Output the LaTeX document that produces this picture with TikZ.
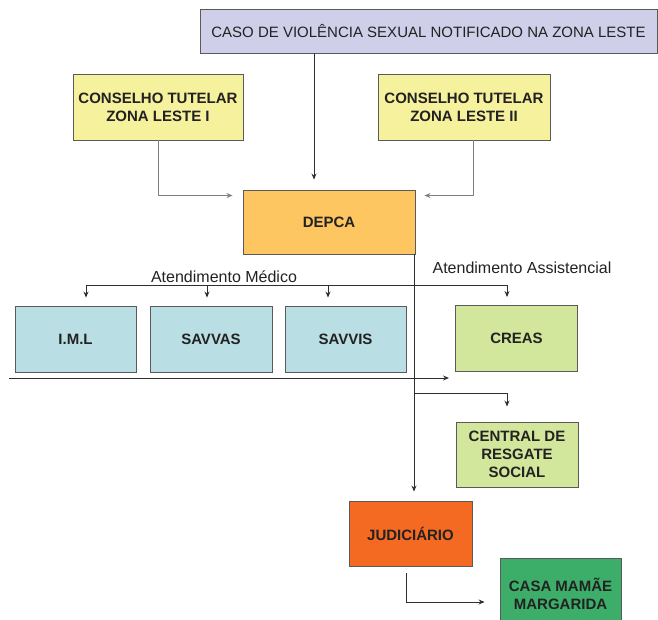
\documentclass[tikz,border=0pt]{standalone}
\usepackage{fontspec}
\setmainfont{Liberation Sans}
\usetikzlibrary{arrows.meta,calc}
\definecolor{lav}{HTML}{CFCFEA}
\definecolor{yel}{HTML}{F5F19C}
\definecolor{orangeA}{HTML}{FDC660}
\definecolor{blueA}{HTML}{B9DEE3}
\definecolor{greenA}{HTML}{D2E69C}
\definecolor{orangeB}{HTML}{F56A22}
\definecolor{greenB}{HTML}{3DAE6A}
\definecolor{boxline}{HTML}{5A5A5A}
\definecolor{conn}{HTML}{2E2E2E}
\definecolor{connlight}{HTML}{808080}
\definecolor{txt}{HTML}{222222}
\begin{document}
\begin{tikzpicture}[x=1pt,y=-1pt,
  box/.style={draw=boxline, line width=0.9pt, inner sep=0pt, align=center,
    font=\fontsize{15}{18}\selectfont\bfseries, text=txt},
  arr/.style={draw=conn, line width=0.9pt, -{Stealth[length=6pt,width=5pt]}},
  arrlight/.style={draw=connlight, line width=0.9pt, -{Stealth[length=6pt,width=5pt]}},
  ln/.style={draw=conn, line width=0.9pt},
  lbl/.style={font=\fontsize{16}{19}\selectfont, text=txt, inner sep=0pt}]
\useasboundingbox (0,0) rectangle (658,620);
\clip (0,0) rectangle (658,620);

% boxes
\node[box, fill=lav, minimum width=457pt, minimum height=44pt,
      font=\fontsize{15}{18}\selectfont, text=txt] (top) at (428.5,31)
      {CASO DE VIOLÊNCIA SEXUAL NOTIFICADO NA ZONA LESTE};
\node[box, fill=yel, minimum width=170pt, minimum height=66pt] (c1) at (158,107)
      {CONSELHO TUTELAR\\ZONA LESTE I};
\node[box, fill=yel, minimum width=172pt, minimum height=66pt] (c2) at (464,107)
      {CONSELHO TUTELAR\\ZONA LESTE II};
\node[box, fill=orangeA, minimum width=172pt, minimum height=64pt] (depca) at (329,222)
      {DEPCA};
\node[box, fill=blueA, minimum width=121pt, minimum height=66pt] (iml) at (75.5,339)
      {I.M.L};
\node[box, fill=blueA, minimum width=122pt, minimum height=66pt] (savvas) at (211,339)
      {SAVVAS};
\node[box, fill=blueA, minimum width=121pt, minimum height=66pt] (savvis) at (345.5,339)
      {SAVVIS};
\node[box, fill=greenA, minimum width=122pt, minimum height=66pt] (creas) at (516.5,338.5)
      {CREAS};
\node[box, fill=greenA, minimum width=122pt, minimum height=65pt] (crs) at (517,454.5)
      {CENTRAL DE\\RESGATE\\SOCIAL};
\node[box, fill=orangeB, minimum width=123pt, minimum height=65pt] (jud) at (410.5,533.5)
      {JUDICIÁRIO};
\node[box, fill=greenB, minimum width=121pt, minimum height=72pt] (casa) at (560.5,594)
      {CASA MAMÃE\\MARGARIDA};

% labels
\node[lbl] (lmed) at (224,277) {Atendimento Médico};
\node[lbl] (lass) at (522,268) {Atendimento Assistencial};

% connectors to DEPCA
\coordinate (ta) at (314,53);
\draw[arr, shorten >=10pt] (top.south -| ta) -- (depca.north -| ta);
\draw[arrlight, shorten >=10pt] (c1.south) |- ([yshift=-6pt]depca.north west);
\coordinate (c2a) at (473,140);
\draw[arrlight, shorten >=9pt] (c2.south -| c2a) |- ([yshift=-6pt]depca.north east);

% bus for atendimento
\coordinate (bus1) at (86,285);
\coordinate (bus2) at (507,285);
\coordinate (bs) at (207,285);
\coordinate (bv) at (328,285);
\draw[ln] (bus1) -- (bus2);
\draw[arr, shorten >=8pt] (bus1) -- (iml.north -| bus1);
\draw[arr, shorten >=8pt] (bs) -- (savvas.north -| bs);
\draw[arr, shorten >=8pt] (bv) -- (savvis.north -| bv);
\draw[arr, shorten >=8pt] (bus2) -- (creas.north -| bus2);

% long horizontal arrow
\coordinate (la1) at (9,378);
\coordinate (la2) at (449,378);
\draw[arr] (la1) -- (la2);

% main vertical line from DEPCA to JUDICIARIO
\coordinate (vx) at (414,254);
\draw[arr, shorten >=9pt] (depca.south -| vx) -- (jud.north -| vx);

% branch to central de resgate
\coordinate (b3) at (414,393);
\coordinate (b4) at (507,422);
\draw[arr, shorten >=15pt] (b3) -| (crs.north -| b4);

% judiciario to casa
\coordinate (jx) at (406,573);
\draw[arr, shorten >=15pt] (jx) |- ([yshift=-8pt]casa.west);
\end{tikzpicture}
\end{document}
